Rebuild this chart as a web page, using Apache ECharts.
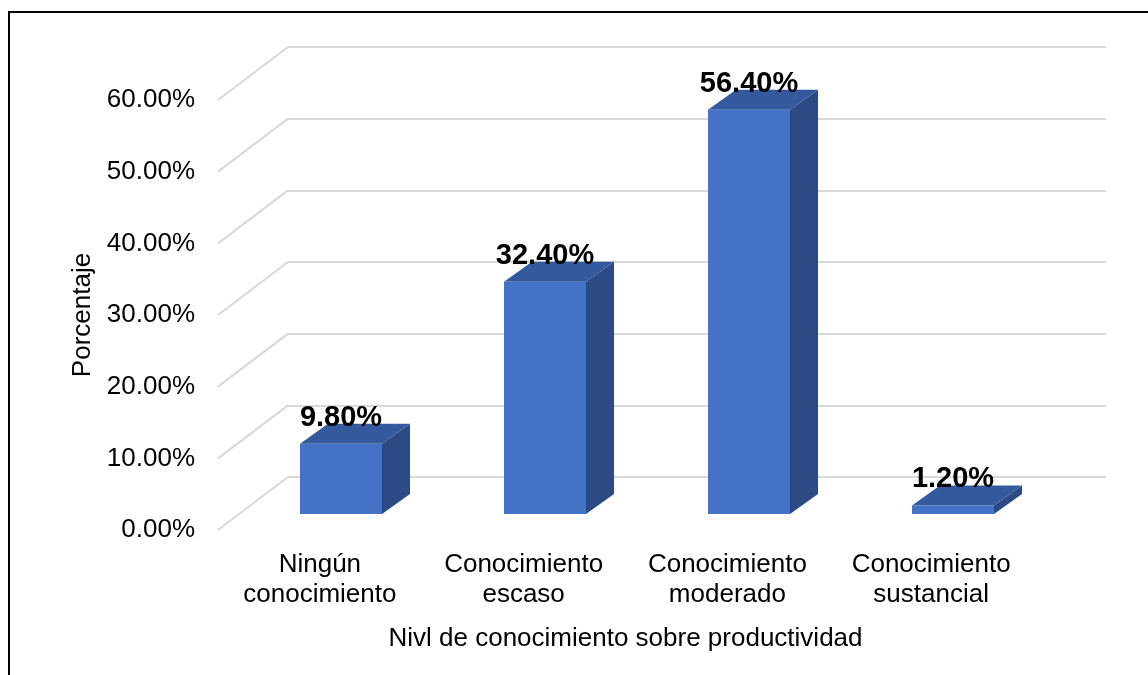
<!DOCTYPE html>
<html>
<head>
<meta charset="utf-8">
<script src="https://cdn.jsdelivr.net/npm/echarts@6/dist/echarts.min.js"></script>
<style>
  html, body { margin: 0; padding: 0; background: #fff; }
  #chart { width: 1148px; height: 675px; }
</style>
</head>
<body>
<div id="chart"></div>
<script>
// data
const categories = [
  "Ningún\nconocimiento",
  "Conocimiento\nescaso",
  "Conocimiento\nmoderado",
  "Conocimiento\nsustancial",
];
const percentages = [9.8, 32.4, 56.4, 1.2];
const yTicks = [0, 10, 20, 30, 40, 50, 60];

const FONT = "'Liberation Sans', Arial, sans-serif";
const GRID_COLOR = "#d9d9d9";

// oblique 3D offsets
const WALL_DX = 70, WALL_DY = -53;   // front plane -> back wall
const BAR_DX = 28, BAR_DY = -20;     // bar depth

const fmtPct = (v) => v.toFixed(2) + "%";

const chart = echarts.init(document.getElementById("chart"), null, { renderer: "canvas" });

const hiddenAxis = { show: false };

chart.setOption({
  backgroundColor: "#fff",
  animation: false,
  textStyle: { fontFamily: FONT },
  graphic: [{
    type: "polyline",
    shape: { points: [[9, 675], [9, 12], [1148, 12]] },
    style: { stroke: "#000", lineWidth: 2, fill: null },
    z: 10,
  }],
  grid: [
    // 0: front plane (axis labels)
    { left: 218, right: 115, top: 100, bottom: 145 },
    // 1: back wall
    { left: 288, right: 42, top: 47, bottom: 198 },
    // 2: bar front faces
    { left: 239, right: 93, top: 84, bottom: 161 },
  ],
  xAxis: [
    {
      gridIndex: 0, type: "category", data: categories,
      axisLine: { show: false }, axisTick: { show: false },
      axisLabel: { interval: 0, color: "#000", fontSize: 26, lineHeight: 30, margin: 20, fontFamily: FONT },
      name: "Nivl de conocimiento sobre productividad",
      nameLocation: "middle", nameGap: 96,
      nameTextStyle: { color: "#000", fontSize: 26, fontFamily: FONT },
    },
    { gridIndex: 1, type: "value", min: 0, max: 4, ...hiddenAxis },
    { gridIndex: 2, type: "category", data: categories, ...hiddenAxis },
  ],
  yAxis: [
    {
      gridIndex: 0, type: "value", min: 0, max: 60, interval: 10,
      axisLine: { show: false }, axisTick: { show: false }, splitLine: { show: false },
      axisLabel: { color: "#000", fontSize: 26, margin: 23, formatter: fmtPct, fontFamily: FONT },
      name: "Porcentaje", nameLocation: "middle", nameGap: 121, nameRotate: 90,
      nameTextStyle: { color: "#000", fontSize: 26, fontFamily: FONT },
    },
    {
      gridIndex: 1, type: "value", min: 0, max: 60, interval: 10,
      axisLine: { show: false }, axisTick: { show: false }, axisLabel: { show: false },
      splitLine: { lineStyle: { color: GRID_COLOR, width: 2 } },
    },
    { gridIndex: 2, type: "value", min: 0, max: 60, ...hiddenAxis },
  ],
  series: [
    {
      // diagonal side-wall gridlines
      type: "custom",
      xAxisIndex: 1, yAxisIndex: 1,
      data: yTicks.map((v) => [0, v]),
      silent: true,
      z: 1,
      renderItem(params, api) {
        const p = api.coord([0, api.value(1)]);
        return {
          type: "line",
          shape: { x1: p[0], y1: p[1], x2: p[0] - WALL_DX, y2: p[1] - WALL_DY },
          style: { stroke: GRID_COLOR, lineWidth: 2 },
        };
      },
    },
    {
      // 3D bars
      type: "custom",
      xAxisIndex: 2, yAxisIndex: 2,
      data: percentages.map((v, i) => [i, v]),
      z: 5,
      renderItem(params, api) {
        const i = api.value(0), v = api.value(1);
        const top = api.coord([i, v]);
        const base = api.coord([i, 0]);
        const bw = api.size([1, 0])[0] * 0.402;
        const x0 = top[0] - bw / 2, x1 = x0 + bw;
        const yt = top[1], yb = base[1];
        return {
          type: "group",
          children: [
            {
              type: "polygon",
              shape: { points: [[x1, yt], [x1 + BAR_DX, yt + BAR_DY], [x1 + BAR_DX, yb + BAR_DY], [x1, yb]] },
              style: { fill: "#2C4A83" },
            },
            {
              type: "polygon",
              shape: { points: [[x0, yt], [x0 + BAR_DX, yt + BAR_DY], [x1 + BAR_DX, yt + BAR_DY], [x1, yt]] },
              style: { fill: "#35599D" },
            },
            {
              type: "rect",
              shape: { x: x0, y: yt, width: bw, height: yb - yt },
              style: { fill: "#4472C4" },
            },
            {
              type: "text",
              x: top[0], y: yt - 26,
              style: {
                text: fmtPct(v),
                fill: "#000",
                font: "bold 29px " + FONT,
                align: "center",
                verticalAlign: "middle",
              },
              z2: 10,
            },
          ],
        };
      },
    },
  ],
});
</script>
</body>
</html>
